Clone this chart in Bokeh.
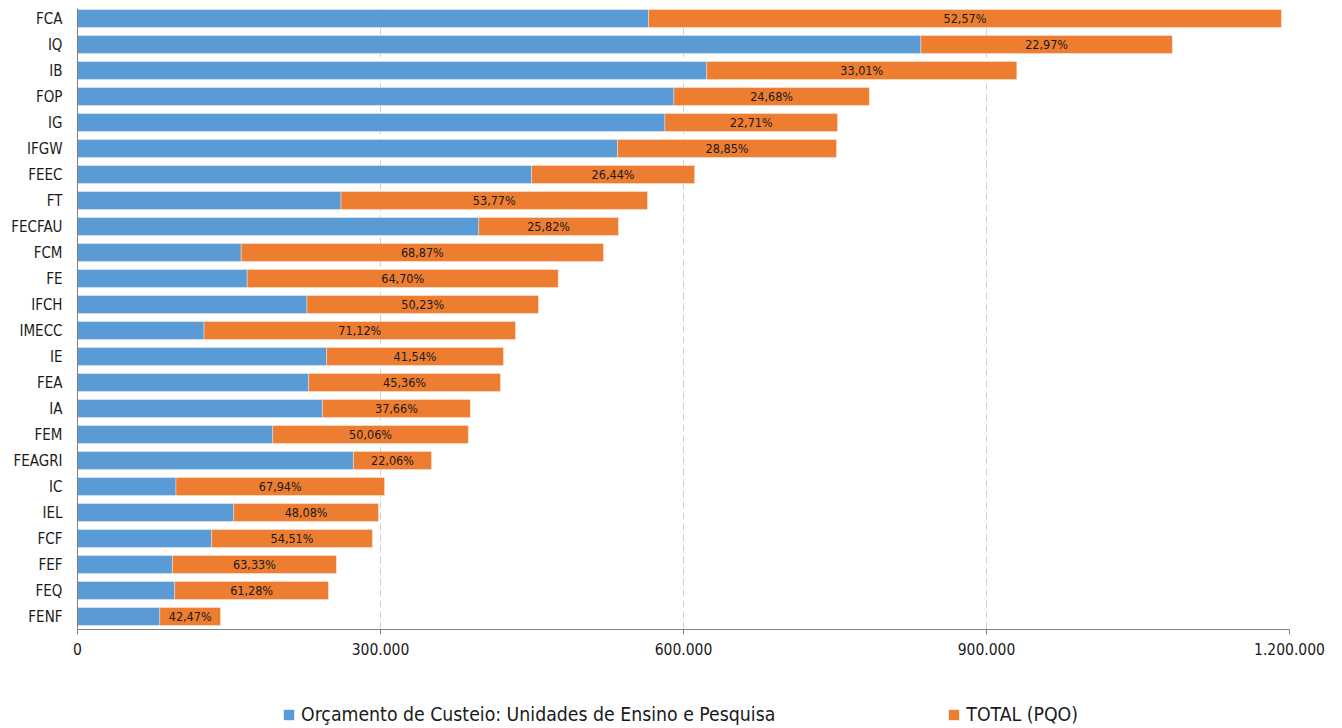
from bokeh.plotting import figure
from bokeh.models import (ColumnDataSource, Range1d, FixedTicker, Legend, LegendItem)
from bokeh.layouts import column
from bokeh.core.properties import value
from bokeh.embed import file_html
from bokeh.resources import INLINE

FONT = "DejaVu Sans Condensed"

categories = ["FCA", "IQ", "IB", "FOP", "IG", "IFGW", "FEEC", "FT", "FECFAU", "FCM",
              "FE", "IFCH", "IMECC", "IE", "FEA", "IA", "FEM", "FEAGRI", "IC", "IEL",
              "FCF", "FEF", "FEQ", "FENF"]
custeio = [565400, 835000, 623000, 590500, 581600, 534700, 449500, 260900, 397300, 162100,
           168000, 227200, 125300, 246600, 228800, 242500, 193300, 273200, 97500, 154700,
           132800, 94000, 96200, 81500]
total_pqo = [1192000, 1084000, 930000, 784000, 752500, 751500, 611000, 564400, 535600, 520800,
             476000, 456400, 433700, 421800, 418800, 389000, 387000, 350500, 304000, 298000,
             292000, 256400, 248500, 141600]
pct_labels = ["52,57%", "22,97%", "33,01%", "24,68%", "22,71%", "28,85%", "26,44%", "53,77%",
              "25,82%", "68,87%", "64,70%", "50,23%", "71,12%", "41,54%", "45,36%", "37,66%",
              "50,06%", "22,06%", "67,94%", "48,08%", "54,51%", "63,33%", "61,28%", "42,47%"]
x_ticks = [0, 300000, 600000, 900000, 1200000]
x_tick_labels = ["0", "300.000", "600.000", "900.000", "1.200.000"]
series_names = ["Orçamento de Custeio: Unidades de Ensino e Pesquisa", "TOTAL (PQO)"]

n = len(categories)
ypos = [n - 1 - i for i in range(n)]
mid = [(a + b) / 2 for a, b in zip(custeio, total_pqo)]

src = ColumnDataSource(dict(y=ypos, cat=categories, blue=custeio, total=total_pqo,
                            mid=mid, pct=pct_labels, zero=[0] * n))

BLUE = "#5B9BD5"
ORANGE = "#ED7D31"
BH = 0.69

p = figure(width=1326, height=670, output_backend="svg", toolbar_location=None,
           x_range=Range1d(0, 1200000), y_range=Range1d(-0.5, 23.385),
           min_border_left=77, min_border_right=37, min_border_top=8, min_border_bottom=41)
p.outline_line_color = None

r1 = p.hbar(y="y", left="zero", right="blue", height=BH, source=src,
            fill_color=BLUE, line_color="white", line_width=0.6, line_alpha=0.6)
r2 = p.hbar(y="y", left="blue", right="total", height=BH, source=src,
            fill_color=ORANGE, line_color="white", line_width=0.6, line_alpha=0.6)

p.text(x="mid", y="y", text="pct", source=src, text_align="center",
       text_baseline="middle", text_font=value(FONT), text_font_size="12.5px",
       text_color="#1a1a1a")

# x axis
p.xaxis.ticker = FixedTicker(ticks=x_ticks)
p.xaxis.major_label_overrides = {t: l for t, l in zip(x_ticks, x_tick_labels)}
p.xaxis.major_label_text_font = FONT
p.xaxis.major_label_text_font_size = "15.5px"
p.xaxis.major_label_text_color = "#1a1a1a"
p.xaxis.axis_line_color = "#808080"
p.xaxis.major_tick_line_color = "#808080"
p.xaxis.major_tick_out = 5
p.xaxis.major_tick_in = 0
p.xaxis.minor_tick_line_color = None
p.xaxis.major_label_standoff = 8

# y axis
p.yaxis.ticker = FixedTicker(ticks=ypos)
p.yaxis.major_label_overrides = {y: c for y, c in zip(ypos, categories)}
p.yaxis.major_label_text_font = FONT
p.yaxis.major_label_text_font_size = "15px"
p.yaxis.major_label_text_color = "#1a1a1a"
p.yaxis.axis_line_color = "#808080"
p.yaxis.major_tick_line_color = None
p.yaxis.minor_tick_line_color = None
p.yaxis.major_tick_out = 0
p.yaxis.major_label_standoff = 15

p.ygrid.grid_line_color = None
p.xgrid.ticker = FixedTicker(ticks=x_ticks[1:])
p.xgrid.grid_line_color = "#d0d0d0"
p.xgrid.grid_line_dash = "7 4"
p.xgrid.grid_line_width = 1

# legend figure (same data, bars kept out of view)
lf = figure(width=1326, height=56, output_backend="svg", toolbar_location=None,
            x_range=Range1d(0, 1200000), y_range=Range1d(100, 101),
            min_border_left=0, min_border_right=0, min_border_top=0, min_border_bottom=0)
lf.axis.visible = False
lf.grid.visible = False
lf.outline_line_color = None
l1 = lf.hbar(y="y", left="zero", right="blue", height=BH, source=src,
             fill_color=BLUE, line_color=None)
l2 = lf.hbar(y="y", left="blue", right="total", height=BH, source=src,
             fill_color=ORANGE, line_color=None)

legend = Legend(items=[
    LegendItem(label=series_names[0], renderers=[l1]),
    LegendItem(label=series_names[1], renderers=[l2]),
], orientation="horizontal", location=(205, 0))
legend.label_text_font = FONT
legend.label_text_font_size = "19.3px"
legend.label_text_color = "#1a1a1a"
legend.glyph_width = 13
legend.glyph_height = 13
legend.label_standoff = 6
legend.spacing = 172
legend.padding = 0
legend.margin = 0
legend.border_line_color = None
legend.background_fill_alpha = 0
lf.add_layout(legend, "center")

layout = column(p, lf, spacing=0)
open("out.html", "w").write(file_html(layout, INLINE))
